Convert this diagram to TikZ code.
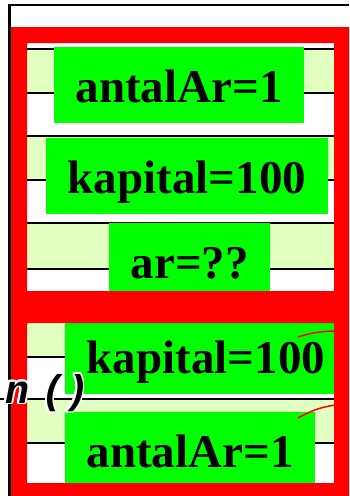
\documentclass[tikz,border=0pt]{standalone}
\usepackage{fontspec}
\setmainfont{Liberation Serif}
\setmonofont{Liberation Mono}
\usepackage[dvipsnames,svgnames,x11names]{xcolor}
\definecolor{frame-red}{HTML}{FF0000}
\definecolor{cell-green}{HTML}{00FF00}
\definecolor{stripe-light}{HTML}{E0FFC0}
\usepackage{tikz}
\usetikzlibrary{calc,positioning}
\usepackage{contour}
\contourlength{1.8pt}

\begin{document}
\begin{tikzpicture}[
  x=1pt, y=-1pt,
  stripe/.style={fill=stripe-light},
  rule/.style={draw=black, line width=1.4pt},
  cell/.style={rectangle, fill=cell-green, inner xsep=21.5pt, inner ysep=0pt, text height=55pt, text depth=21pt, anchor=base west, font=\bfseries\fontsize{47}{56}\selectfont},
  link/.style={draw=frame-red, line width=1.5pt}
]
  \useasboundingbox (0,0) rectangle (349,496);

  % stack window, upper and lower frame
  \fill[white] (27,43) rectangle (334,483);
  \foreach \ya/\yb in {49/93, 136/180, 223/269, 323/357, 400/443}
    \fill[stripe] (27,\ya) rectangle (334,\yb);
  \foreach \yl in {49, 93, 136, 180, 223, 269, 357, 443}
    \draw[rule] (27,\yl) -- (334,\yl);
  \draw[rule, line width=2.4pt] (0,399) -- (334,399);

  \node[cell] (antal-top) at (54,102) {antalAr=1};
  \node[cell] (kapital-top) at (46,193) {kapital=100};
  \node[cell] (ar-top) at (109,278) {ar=??};
  \node[cell] (kapital-bot) at (65,373) {kapital=100};
  \node[cell] (antal-bot) at (65,467) {antalAr=1};

  \coordinate (ref-a) at (298,337);
  \coordinate (ref-b) at (298,418);
  \draw[link] (ref-a) to[bend left=8] (335,331);
  \draw[link] (ref-b) to[bend left=10] (335,405);

  \fill[frame-red, even odd rule] (11,27) rectangle (349,496)
    (27,43) rectangle (334,291) (27,323) rectangle (334,483);

  \draw[black, line width=2pt] (8,5) -- (349,5);
  \draw[black, line width=2.6pt] (9.6,5) -- (9.6,496);

  \node[anchor=base west, inner sep=0pt, font=\ttfamily\bfseries\itshape\fontsize{40}{44}\selectfont] (call) at (5,403) {\contour{white}{n\hspace{12pt}()}};
\end{tikzpicture}
\end{document}
